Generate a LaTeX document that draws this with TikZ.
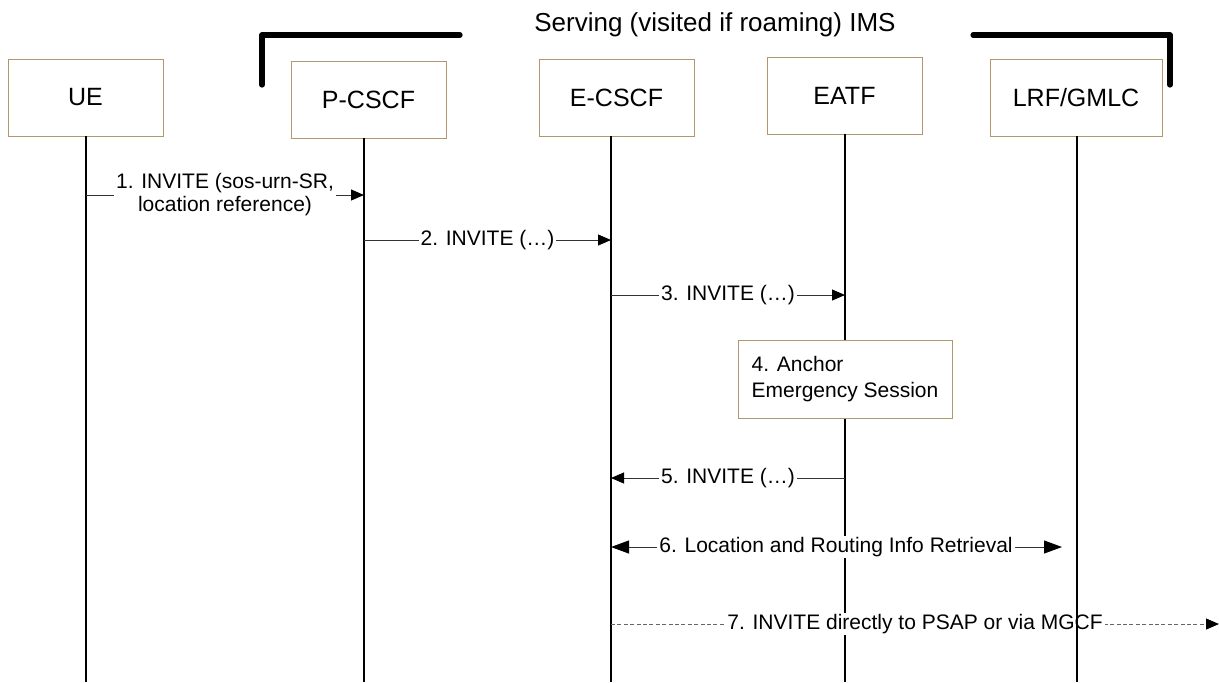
\documentclass[tikz,border=0pt]{standalone}
\usepackage{fontspec}
\setmainfont{Liberation Sans}
\usetikzlibrary{positioning, arrows.meta}
\definecolor{boxtan}{RGB}{178,150,108}

\begin{document}
\begin{tikzpicture}[
    x=0.5pt, y=-0.5pt,
    >={Triangle[length=6.5pt, width=5.5pt, color=black]},
    entity/.style={rectangle, draw=boxtan, line width=0.5pt, fill=white, minimum width=77.5pt, minimum height=38.5pt, inner sep=0pt, font=\fontsize{12.5}{15}\selectfont},
    actbox/.style={rectangle, draw=boxtan, line width=0.5pt, fill=white, minimum width=107pt, minimum height=39pt, align=left, font=\fontsize{10.5}{13}\selectfont},
    lifeline/.style={line width=0.75pt, black},
    msg/.style={->, line width=0.5pt, black!80},
    both_msg/.style={{Triangle[length=9pt, width=6.5pt, color=black]}-{Triangle[length=9pt, width=6.5pt, color=black]}, line width=0.5pt, black!80},
    dash_msg/.style={->, line width=0.5pt, black!60, dash pattern=on 2pt off 1.2pt},
    msglabel/.style={fill=white, text=black, inner xsep=1pt, inner ysep=0.5pt, align=center, font=\fontsize{10.5}{11.5}\selectfont},
    bracket/.style={line width=2.6pt, line cap=round, line join=round},
]
    \useasboundingbox (0,0) rectangle (1219,682);

    % ===== ENTITIES =====
    \node[entity] (ue) at (85.5,97.5) {UE};
    \node[entity] (pcscf) at (368.5,100) {P-CSCF};
    \node[entity] (ecscf) at (616.5,97.5) {E-CSCF};
    \node[entity] (eatf) at (844.5,95.5) {EATF};
    \node[entity, minimum width=86pt] (lrf) at (1076,97.5) {LRF/GMLC};

    % Serving IMS bracket
    \node[font=\fontsize{13}{15}\selectfont] (ims) at (715,25) {Serving (visited if roaming) IMS};
    \draw[bracket] (262,85) -- (262,35) -- (460,35);
    \draw[bracket] (973,35) -- (1170,35) -- (1170,85);

    % ===== LIFELINES =====
    \coordinate (ueT) at (86,136);
    \coordinate (pcT) at (364,138);
    \coordinate (ecT) at (611,136);
    \coordinate (eaT) at (845,134);
    \coordinate (lrT) at (1077,136);
    \coordinate (bottom) at (0,682);
    \foreach \top in {ueT, pcT, ecT, eaT}
        \draw[lifeline] (\top) -- (\top |- bottom);

    % message rows
    \coordinate (r1) at (0,195);
    \coordinate (r2) at (0,240);
    \coordinate (r3) at (0,295);
    \coordinate (r5) at (0,478);
    \coordinate (r6) at (0,547);
    \coordinate (r7) at (0,624);
    \coordinate (psap) at (1219,624);

    % ===== MESSAGES =====
    \draw[msg] (ueT |- r1) -- node[msglabel] {1. INVITE (sos-urn-SR,\\location reference)} (pcT |- r1);
    \draw[msg] (pcT |- r2) -- node[msglabel] {2. INVITE (\dots)} (ecT |- r2);
    \draw[msg] (ecT |- r3) -- node[msglabel] {3. INVITE (\dots)} (eaT |- r3);

    \node[actbox] (anchor) at (845,379) {4. Anchor\\Emergency Session};

    \draw[msg] (eaT |- r5) -- node[msglabel] {5. INVITE (\dots)} (ecT |- r5);
    \draw[both_msg, shorten >=7.5pt] (ecT |- r6) -- node[msglabel, xshift=-4pt] {6. Location and Routing Info Retrieval} (lrT |- r6);
    \draw[dash_msg] (ecT |- r7) -- node[msglabel] {7. INVITE directly to PSAP or via MGCF} (psap);

    % LRF lifeline on top
    \draw[lifeline] (lrT) -- (lrT |- bottom);

\end{tikzpicture}
\end{document}
